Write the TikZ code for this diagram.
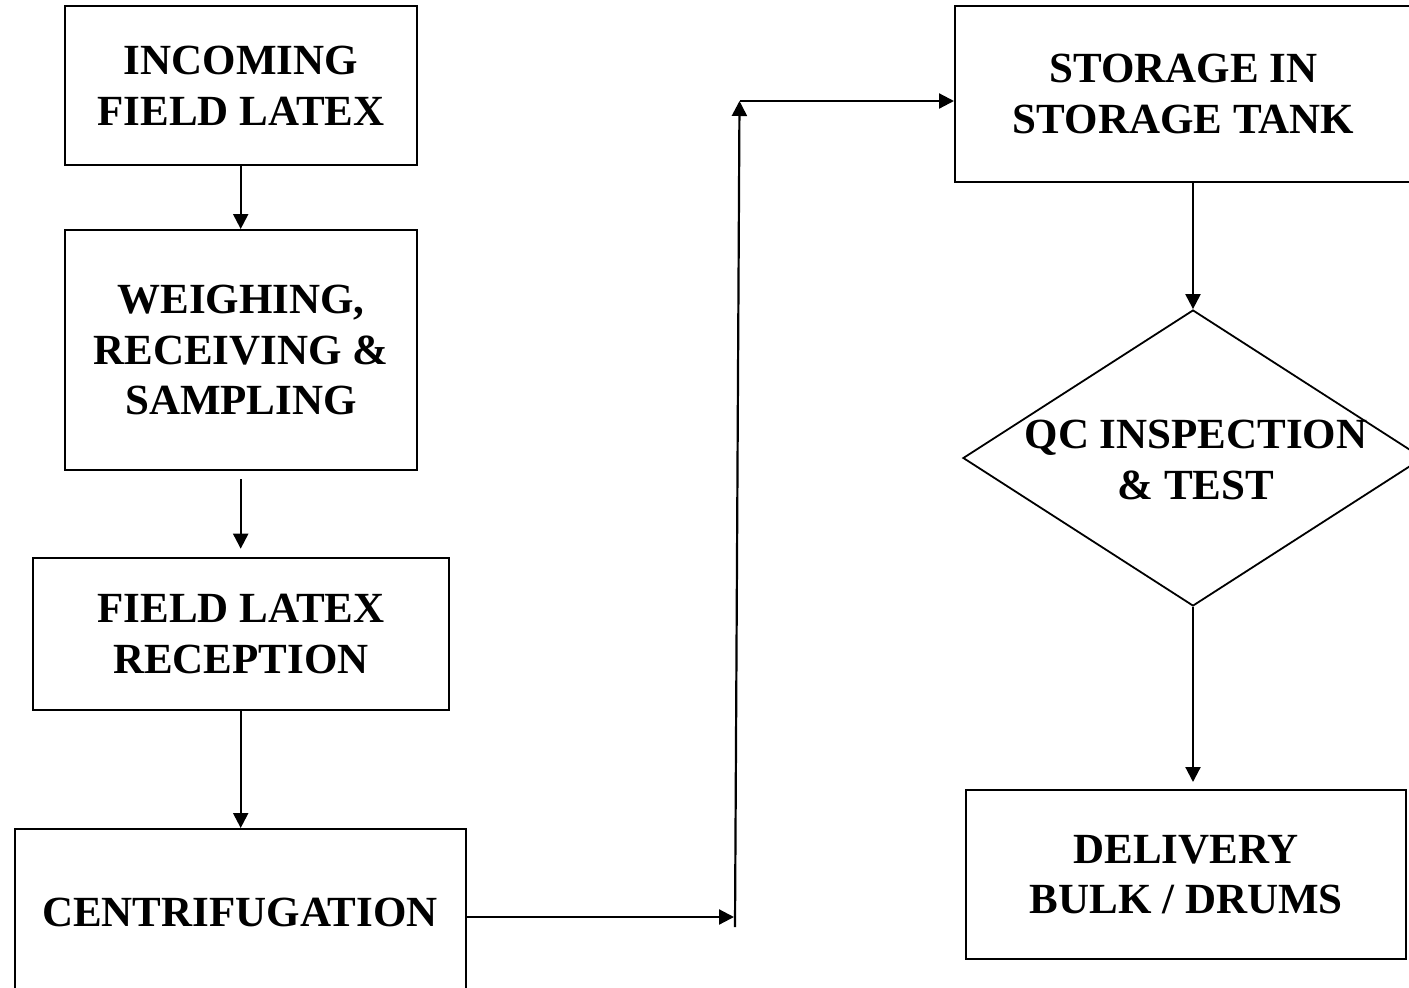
\documentclass[tikz,border=0pt]{standalone}
\usepackage{fontspec}
\setmainfont{Liberation Serif}
\usetikzlibrary{arrows.meta,shapes.geometric,calc}
\tikzset{
  procbox/.style={draw, line width=2pt, inner sep=0pt, align=center,
    font=\fontsize{43}{50.7}\selectfont\bfseries},
  arr/.style={line width=2.2pt, -{Triangle[length=15pt,width=15pt]}},
  lbl/.style={align=center, inner sep=0pt, font=\fontsize{43}{50.7}\selectfont\bfseries}
}
\begin{document}
\begin{tikzpicture}[x=1pt,y=-1pt]
\useasboundingbox (0,0) rectangle (1409,988);
% left column
\node[procbox, minimum width=352pt, minimum height=159pt] (inc) at (241,85.5) {INCOMING\\FIELD LATEX};
\node[procbox, minimum width=352pt, minimum height=240pt] (wei) at (241,350) {WEIGHING,\\RECEIVING \&\\SAMPLING};
\node[procbox, minimum width=416pt, minimum height=152pt] (rec) at (241,633.7) {FIELD LATEX\\RECEPTION};
\node[procbox, minimum width=451pt, minimum height=166pt] (cen) at (240,912) {CENTRIFUGATION};
% right column
\node[procbox, minimum width=457pt, minimum height=176pt] (sto) at (1183.5,93.7) {STORAGE IN\\STORAGE TANK};
\node[draw, diamond, line width=1.8pt, minimum width=460pt, minimum height=296pt, aspect=1.554, inner sep=0pt] (qc) at (1193,458) {};
\node[lbl] (qct) at (1196,460) {QC INSPECTION\\\& TEST};
\node[procbox, minimum width=440pt, minimum height=169pt] (del) at (1186.3,874.5) {DELIVERY\\BULK / DRUMS};
% junction coordinates
\coordinate (j1) at (734,917);
\coordinate (j2) at (735,927);
\coordinate (j3) at (739.5,101);
% connectors
\draw[arr] (inc.south -| 240.7,0) -- (wei.north -| 240.7,0);
\draw[arr, shorten <=8pt, shorten >=8pt] (wei.south -| 240.7,0) -- (rec.north -| 240.7,0);
\draw[arr] (rec.south -| 240.7,0) -- (cen.north -| 240.7,0);
\draw[arr] (cen.east |- j1) -- (j1);
\draw[arr] (j2) -- (j3);
\draw[arr] (j3) -- (sto.west |- j3);
\draw[arr] (sto.south -| qc.north) -- (qc.north);
\draw[arr, shorten >=7pt] (qc.south) -- (del.north -| qc.south);
\end{tikzpicture}
\end{document}
